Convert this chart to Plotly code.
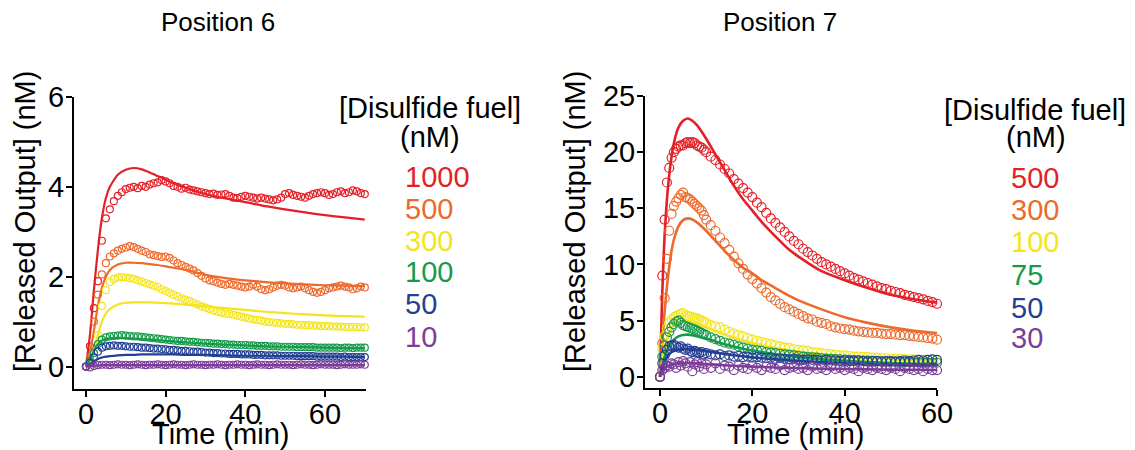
import plotly.graph_objects as go

W, H = 1135, 450
FONT = "Arial, 'Liberation Sans', sans-serif"

# ---------------- Position 6 ----------------
T6 = list(range(0, 71))
P6_LABELS = ["1000", "500", "300", "100", "50", "10"]
P6_1000 = [0.0, 0.45, 1.3, 1.9, 2.8, 3.3, 3.5, 3.68, 3.8, 3.88, 3.95,
           3.98, 4.0, 3.97, 4.02, 4.0, 4.05, 4.08, 4.1, 4.15, 4.12,
           4.08, 4.02, 4.0, 3.96, 3.98, 3.94, 3.92, 3.9, 3.88, 3.86,
           3.84, 3.85, 3.82, 3.83, 3.84, 3.8, 3.76, 3.75, 3.78, 3.8,
           3.78, 3.76, 3.74, 3.76, 3.74, 3.72, 3.7, 3.72, 3.76, 3.84,
           3.86, 3.82, 3.8, 3.78, 3.76, 3.8, 3.84, 3.86, 3.88, 3.86,
           3.82, 3.84, 3.88, 3.9, 3.86, 3.88, 3.92, 3.9, 3.86, 3.84]
P6_500 = [0.0, 0.2, 1.0, 1.6, 2.05, 2.3, 2.45, 2.52, 2.58, 2.62, 2.65,
          2.68, 2.66, 2.62, 2.58, 2.55, 2.5, 2.48, 2.46, 2.44, 2.45,
          2.42, 2.36, 2.3, 2.26, 2.22, 2.18, 2.14, 2.08, 2.02, 1.96,
          1.92, 1.9, 1.87, 1.84, 1.82, 1.84, 1.82, 1.8, 1.78, 1.76,
          1.78, 1.82, 1.78, 1.72, 1.7, 1.72, 1.76, 1.8, 1.82, 1.8,
          1.76, 1.74, 1.76, 1.78, 1.74, 1.7, 1.66, 1.64, 1.66, 1.7,
          1.74, 1.76, 1.78, 1.8, 1.78, 1.76, 1.72, 1.74, 1.78, 1.76]
P6_300 = [0.0, 0.05, 0.3, 0.7, 1.35, 1.7, 1.88, 1.95, 1.98, 1.99, 1.98,
          1.97, 1.95, 1.92, 1.89, 1.86, 1.83, 1.8, 1.77, 1.72, 1.68,
          1.64, 1.6, 1.56, 1.52, 1.49, 1.46, 1.42, 1.38, 1.34, 1.31,
          1.28, 1.25, 1.22, 1.2, 1.18, 1.17, 1.15, 1.13, 1.11, 1.09,
          1.07, 1.05, 1.04, 1.02, 1.0, 0.99, 0.98, 0.97, 0.96, 0.95,
          0.95, 0.94, 0.93, 0.93, 0.92, 0.92, 0.91, 0.91, 0.9, 0.9,
          0.9, 0.89, 0.89, 0.89, 0.88, 0.88, 0.88, 0.88, 0.87, 0.87]
P6_100 = [0.0, 0.12, 0.3, 0.5, 0.6, 0.65, 0.67, 0.68, 0.69, 0.7, 0.69,
          0.68, 0.67, 0.67, 0.66, 0.65, 0.64, 0.63, 0.62, 0.61, 0.6,
          0.59, 0.58, 0.57, 0.57, 0.56, 0.55, 0.55, 0.54, 0.53, 0.53,
          0.52, 0.51, 0.51, 0.5, 0.5, 0.49, 0.49, 0.48, 0.48, 0.48,
          0.47, 0.47, 0.46, 0.46, 0.46, 0.45, 0.45, 0.45, 0.44, 0.44,
          0.44, 0.44, 0.43, 0.43, 0.43, 0.43, 0.43, 0.42, 0.42, 0.42,
          0.42, 0.42, 0.42, 0.41, 0.42, 0.42, 0.41, 0.42, 0.42, 0.42]
P6_50 = [0.0, 0.08, 0.2, 0.33, 0.42, 0.45, 0.46, 0.47, 0.46, 0.46, 0.45,
         0.44, 0.44, 0.43, 0.42, 0.42, 0.41, 0.4, 0.4, 0.39, 0.38,
         0.37, 0.37, 0.36, 0.35, 0.35, 0.34, 0.33, 0.33, 0.32, 0.31,
         0.31, 0.3, 0.3, 0.29, 0.29, 0.28, 0.28, 0.28, 0.27, 0.27,
         0.27, 0.26, 0.26, 0.26, 0.25, 0.25, 0.25, 0.25, 0.24, 0.24,
         0.24, 0.24, 0.23, 0.23, 0.23, 0.23, 0.23, 0.22, 0.22, 0.22,
         0.22, 0.22, 0.22, 0.21, 0.22, 0.21, 0.21, 0.21, 0.21, 0.21]
P6_10 = [0.0, -0.02, 0.01, 0.03, 0.04, 0.04, 0.03, 0.04, 0.05, 0.04, 0.04,
         0.03, 0.04, 0.05, 0.04, 0.03, 0.04, 0.04, 0.05, 0.04, 0.03,
         0.04, 0.05, 0.04, 0.04, 0.03, 0.04, 0.05, 0.04, 0.04, 0.03,
         0.04, 0.04, 0.05, 0.04, 0.03, 0.04, 0.04, 0.05, 0.04, 0.04,
         0.03, 0.04, 0.05, 0.04, 0.04, 0.03, 0.04, 0.05, 0.04, 0.04,
         0.04, 0.03, 0.04, 0.05, 0.04, 0.04, 0.03, 0.04, 0.05, 0.04,
         0.04, 0.04, 0.03, 0.04, 0.05, 0.04, 0.04, 0.04, 0.05, 0.04]

FIT6_T = [0, 1, 2, 3, 4, 5, 6, 8, 10, 12, 14, 16, 18, 20, 22, 25, 30, 35, 40, 45, 50, 55, 60, 65, 70]
FIT6_1000 = [0, 0.7, 1.7, 2.6, 3.3, 3.75, 4.0, 4.27, 4.38, 4.42, 4.39, 4.32, 4.24, 4.16, 4.08,
             3.98, 3.84, 3.74, 3.66, 3.57, 3.5, 3.43, 3.37, 3.32, 3.27]
FIT6_500 = [0, 0.3, 0.8, 1.35, 1.75, 2.0, 2.15, 2.27, 2.31, 2.31, 2.3, 2.28, 2.26, 2.23, 2.2,
            2.15, 2.04, 1.97, 1.92, 1.88, 1.85, 1.83, 1.81, 1.8, 1.79]
FIT6_300 = [0, 0.1, 0.35, 0.7, 1.0, 1.18, 1.28, 1.38, 1.42, 1.43, 1.43, 1.43, 1.42, 1.41, 1.4,
            1.38, 1.34, 1.3, 1.26, 1.22, 1.19, 1.16, 1.14, 1.12, 1.11]
FIT6_100 = [0, 0.15, 0.35, 0.5, 0.58, 0.61, 0.63, 0.64, 0.63, 0.62, 0.61, 0.6, 0.59, 0.57, 0.56,
            0.54, 0.51, 0.49, 0.47, 0.45, 0.44, 0.43, 0.42, 0.41, 0.41]
FIT6_50 = [0, 0.05, 0.12, 0.17, 0.2, 0.22, 0.23, 0.25, 0.26, 0.26, 0.27, 0.27, 0.27, 0.27, 0.27,
           0.26, 0.26, 0.25, 0.24, 0.24, 0.23, 0.23, 0.22, 0.22, 0.21]
FIT6_10 = [0, 0.01, 0.02, 0.02, 0.03, 0.03, 0.03, 0.03, 0.03, 0.03, 0.03, 0.03, 0.03, 0.03, 0.03,
           0.03, 0.03, 0.03, 0.03, 0.03, 0.03, 0.03, 0.03, 0.03, 0.03]

# ---------------- Position 7 ----------------
T7 = [0, 0.5, 1, 1.5, 2, 2.5, 3, 3.5, 4, 4.5, 5, 5.5, 6, 6.5, 7, 7.5, 8, 8.5, 9, 9.5, 10,
      11, 12, 13, 14, 15, 16, 17, 18, 19, 20, 21, 22, 23, 24, 25, 26, 27, 28, 29, 30,
      31, 32, 33, 34, 35, 36, 37, 38, 39, 40, 41, 42, 43, 44, 45, 46, 47, 48, 49, 50,
      51, 52, 53, 54, 55, 56, 57, 58, 59, 60]
P7_LABELS = ["500", "300", "100", "75", "50", "30"]
P7_500 = [0, 9.0, 14.0, 17.3, 18.6, 19.5, 20.0, 20.3, 20.5, 20.6, 20.6, 20.8, 20.9, 20.8, 20.9, 20.8, 20.6, 20.5, 20.4, 20.2, 20.0,
          19.6, 19.3, 18.9, 18.5, 18.1, 17.6, 17.2, 16.8, 16.4, 16.0,
          15.5, 15.1, 14.6, 14.1, 13.7, 13.3, 12.9, 12.5, 12.1, 11.8,
          11.4, 11.1, 10.8, 10.5, 10.2, 10.0, 9.8, 9.6, 9.4, 9.2,
          9.0, 8.8, 8.65, 8.5, 8.35, 8.2, 8.05, 7.9, 7.8, 7.65,
          7.55, 7.45, 7.3, 7.2, 7.1, 7.0, 6.9, 6.75, 6.65, 6.5]
P7_300 = [0, 3.0, 7.0, 10.5, 13.0, 14.5, 15.2, 15.6, 15.9, 16.2, 16.4, 16.0, 15.9, 15.8, 15.6, 15.4, 15.2, 15.0, 14.8, 14.4, 14.0,
          13.5, 13.0, 12.4, 11.9, 11.3, 10.7, 10.1, 9.6, 9.1, 8.7,
          8.3, 7.9, 7.5, 7.1, 6.8, 6.5, 6.2, 6.0, 5.8, 5.6,
          5.4, 5.2, 5.1, 4.9, 4.8, 4.7, 4.5, 4.4, 4.3, 4.25,
          4.2, 4.1, 4.05, 4.0, 3.95, 3.9, 3.9, 3.85, 3.8, 3.8,
          3.75, 3.7, 3.7, 3.65, 3.6, 3.55, 3.5, 3.45, 3.4, 3.3]
P7_100 = [0, 2.5, 3.6, 4.3, 4.8, 5.1, 5.3, 5.4, 5.5, 5.6, 5.7, 5.5, 5.4, 5.35, 5.3, 5.25, 5.2, 5.1, 5.0, 4.9, 4.8,
          4.6, 4.5, 4.4, 4.2, 4.0, 3.85, 3.7, 3.6, 3.45, 3.3,
          3.2, 3.1, 3.0, 2.9, 2.8, 2.7, 2.6, 2.55, 2.45, 2.4,
          2.35, 2.3, 2.2, 2.15, 2.1, 2.05, 2.0, 1.95, 1.9, 1.9,
          1.85, 1.8, 1.8, 1.75, 1.75, 1.7, 1.7, 1.65, 1.65, 1.6,
          1.6, 1.6, 1.55, 1.55, 1.55, 1.5, 1.5, 1.5, 1.5, 1.45]
P7_75 = [0, 1.8, 2.8, 3.5, 4.0, 4.4, 4.7, 4.9, 5.0, 4.8, 4.6, 4.5, 4.45, 4.35, 4.3, 4.2, 4.1, 4.0, 3.9, 3.8, 3.7,
         3.5, 3.35, 3.2, 3.05, 2.95, 2.85, 2.7, 2.6, 2.5, 2.4,
         2.35, 2.3, 2.2, 2.15, 2.1, 2.05, 2.0, 1.95, 1.9, 1.85,
         1.8, 1.75, 1.72, 1.7, 1.65, 1.62, 1.6, 1.57, 1.55, 1.52,
         1.5, 1.48, 1.46, 1.45, 1.43, 1.41, 1.4, 1.38, 1.37, 1.35,
         1.34, 1.33, 1.31, 1.3, 1.29, 1.28, 1.27, 1.26, 1.25, 1.25]
P7_50 = [0, 1.2, 1.9, 2.4, 2.7, 2.8, 2.85, 2.7, 2.6, 2.7, 2.5, 2.4, 2.5, 2.3, 2.2, 2.3, 2.2, 2.1, 2.2, 2.0, 2.1,
         2.0, 1.9, 2.0, 1.85, 1.9, 1.8, 1.85, 1.75, 1.8, 1.7,
         1.75, 1.7, 1.65, 1.7, 1.6, 1.65, 1.6, 1.55, 1.6, 1.55,
         1.5, 1.55, 1.5, 1.5, 1.45, 1.5, 1.45, 1.45, 1.4, 1.45,
         1.4, 1.4, 1.45, 1.4, 1.35, 1.4, 1.4, 1.35, 1.4, 1.4,
         1.35, 1.4, 1.45, 1.4, 1.45, 1.5, 1.45, 1.5, 1.55, 1.5]
P7_30 = [0, 0.6, 0.8, 1.0, 0.9, 1.2, 1.1, 0.8, 1.3, 1.0, 1.4, 1.2, 0.9, 1.3, 0.5, 1.1, 1.3, 0.9, 1.2, 0.7, 1.1,
         0.8, 1.2, 0.7, 1.0, 0.9, 0.6, 1.0, 0.8, 0.7, 1.0,
         0.8, 0.6, 0.9, 0.8, 0.7, 1.0, 0.6, 0.8, 0.9, 0.7,
         0.8, 0.6, 0.9, 0.7, 0.8, 0.6, 0.9, 0.7, 0.8, 0.6,
         0.8, 0.7, 0.5, 0.8, 0.7, 0.6, 0.8, 0.7, 0.6, 0.8,
         0.7, 0.5, 0.8, 0.7, 0.6, 0.7, 0.5, 0.7, 0.6, 0.6]

FIT7_T = [0, 0.25, 0.5, 0.75, 1, 1.5, 2, 2.5, 3, 4, 5, 6, 7, 8, 10, 12, 14, 16, 18, 20,
          22, 25, 28, 30, 35, 40, 45, 50, 55, 60]
FIT7_500 = [0, 4.0, 7.5, 10.3, 12.6, 15.8, 18.0, 19.6, 20.8, 22.2, 22.8, 23.0, 22.8, 22.4, 21.2,
            19.8, 18.4, 17.0, 15.8, 14.8, 13.8, 12.5, 11.3, 10.7, 9.4, 8.6, 7.9, 7.3, 6.9, 6.6]
FIT7_300 = [0, 1.5, 3.0, 4.5, 5.8, 8.0, 9.8, 11.2, 12.2, 13.4, 13.95, 14.1, 14.0, 13.75, 13.0,
            12.1, 11.2, 10.4, 9.7, 9.2, 8.6, 7.9, 7.2, 6.8, 6.0, 5.3, 4.8, 4.4, 4.1, 3.9]
FIT7_100 = [0, 0.8, 1.5, 2.1, 2.6, 3.4, 3.9, 4.3, 4.6, 4.9, 5.0, 4.95, 4.85, 4.7, 4.4,
            4.05, 3.75, 3.45, 3.2, 3.0, 2.8, 2.55, 2.35, 2.25, 2.0, 1.8, 1.65, 1.55, 1.45, 1.35]
FIT7_75 = [0, 0.5, 1.0, 1.4, 1.75, 2.3, 2.75, 3.05, 3.3, 3.6, 3.72, 3.75, 3.7, 3.6, 3.4,
           3.15, 2.9, 2.7, 2.5, 2.35, 2.2, 2.0, 1.85, 1.75, 1.55, 1.42, 1.3, 1.22, 1.15, 1.1]
FIT7_50 = [0, 0.4, 0.8, 1.1, 1.35, 1.75, 2.0, 2.2, 2.3, 2.42, 2.46, 2.45, 2.42, 2.38, 2.28,
           2.15, 2.03, 1.92, 1.82, 1.73, 1.65, 1.55, 1.45, 1.4, 1.28, 1.2, 1.13, 1.08, 1.04, 1.0]
FIT7_30 = [0, 0.2, 0.4, 0.55, 0.7, 0.9, 1.0, 1.1, 1.15, 1.2, 1.22, 1.22, 1.2, 1.18, 1.13,
           1.08, 1.03, 0.98, 0.94, 0.9, 0.87, 0.83, 0.79, 0.77, 0.72, 0.69, 0.66, 0.64, 0.62, 0.6]

COLORS = ["#e31f27", "#ec6a2c", "#f3e41d", "#169a4a", "#223f93", "#7b3d97"]

DATA6 = [P6_1000, P6_500, P6_300, P6_100, P6_50, P6_10]
FITS6 = [FIT6_1000, FIT6_500, FIT6_300, FIT6_100, FIT6_50, FIT6_10]
DATA7 = [P7_500, P7_300, P7_100, P7_75, P7_50, P7_30]
FITS7 = [FIT7_500, FIT7_300, FIT7_100, FIT7_75, FIT7_50, FIT7_30]

fig = go.Figure()

for i in range(6):
    c = COLORS[i]
    fig.add_trace(go.Scatter(x=T6, y=DATA6[i], mode="markers", xaxis="x", yaxis="y",
                             marker=dict(symbol="circle-open", size=7, color=c, line=dict(width=1.2, color=c)),
                             showlegend=False, cliponaxis=False))
    fig.add_trace(go.Scatter(x=FIT6_T, y=FITS6[i], mode="lines", xaxis="x", yaxis="y",
                             line=dict(color=c, width=2.2, shape="spline", smoothing=0.6),
                             showlegend=False))
    fig.add_trace(go.Scatter(x=T7, y=DATA7[i], mode="markers", xaxis="x2", yaxis="y2",
                             marker=dict(symbol="circle-open", size=9, color=c, line=dict(width=1.2, color=c)),
                             showlegend=False, cliponaxis=False))
    fig.add_trace(go.Scatter(x=FIT7_T, y=FITS7[i], mode="lines", xaxis="x2", yaxis="y2",
                             line=dict(color=c, width=2.6, shape="spline", smoothing=0.6),
                             showlegend=False))


def px(x):
    return x / W


def py(y):
    return 1 - y / H


axis_common = dict(showline=True, linecolor="black", linewidth=2, ticks="outside", ticklen=6,
                   tickwidth=2, tickcolor="black", showgrid=False, zeroline=False, automargin=False,
                   tickfont=dict(family=FONT, size=29, color="black"))
xax = dict(ticklabelstandoff=-8, **axis_common)
yax = dict(ticklabelstandoff=-4, **axis_common)

fig.update_layout(
    template="none",
    width=W, height=H,
    autosize=False,
    margin=dict(l=0, r=0, t=0, b=0, pad=0, autoexpand=False),
    paper_bgcolor="white", plot_bgcolor="white",
    xaxis=dict(domain=[px(74), px(366)], range=[-3, 70.3], tickvals=[0, 20, 40, 60], anchor="y", **xax),
    yaxis=dict(domain=[py(389), py(97)], range=[-0.5, 6], tickvals=[0, 2, 4, 6], anchor="x", **yax),
    xaxis2=dict(domain=[px(645), px(937)], range=[-3.25, 60], tickvals=[0, 20, 40, 60], anchor="y2", **xax),
    yaxis2=dict(domain=[py(388), py(96)], range=[-1, 25], tickvals=[0, 5, 10, 15, 20, 25], anchor="x2", **yax),
)

ann = []


def text(t, x, y, size=29, color="black", angle=0, xanchor="center"):
    ann.append(dict(text=t, x=px(x), y=py(y), xref="paper", yref="paper", showarrow=False,
                    xanchor=xanchor, yanchor="middle", textangle=angle,
                    font=dict(family=FONT, size=size, color=color)))


# Titles
text("Position 6", 218, 22, size=26)
text("Position 7", 780, 22, size=26)
# Axis titles
text("[Released Output] (nM)", 25, 222, angle=-90)
text("[Released Output] (nM)", 575, 222, angle=-90)
text("Time (min)", 220, 434)
text("Time (min)", 795, 434)
# Legends
text("[Disulfide fuel]", 430, 108)
text("(nM)", 430, 137)
text("[Disulfide fuel]", 1035, 110)
text("(nM)", 1036, 137)
ys6 = [177, 209, 241, 272, 304, 337]
for i, lab in enumerate(P6_LABELS):
    text(lab, 403, ys6[i], color=COLORS[i], xanchor="left")
ys7 = [178, 210, 242, 275, 308, 338]
for i, lab in enumerate(P7_LABELS):
    text(lab, 1009, ys7[i], color=COLORS[i], xanchor="left")

fig.update_layout(annotations=ann)
fig.write_html("out.html", config={"responsive": False, "displayModeBar": False},
               post_script="document.body.style.margin='0';document.body.style.padding='0';document.body.style.overflow='hidden';")
